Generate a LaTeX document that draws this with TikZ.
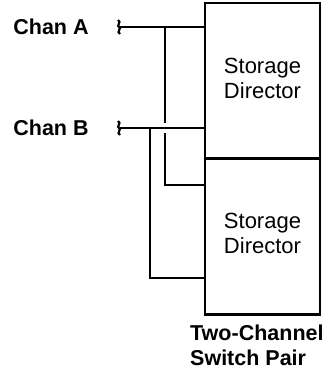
\documentclass[tikz,border=0pt]{standalone}
\usepackage{fontspec}
\setmainfont{Liberation Sans}
\begin{document}
\begin{tikzpicture}[x=1pt,y=-1pt,
  wire/.style={line width=2.6pt},
  sdbox/.style={draw, line width=2.2pt, minimum width=115pt, minimum height=156pt, inner sep=0pt,
    label={[align=center, font=\fontsize{22}{25}\selectfont, yshift=3pt]center:Storage\\Director}},
  chlabel/.style={font=\fontsize{21.5}{24}\selectfont\bfseries, inner sep=0pt},
  caption/.style={font=\fontsize{21.5}{25}\selectfont\bfseries, inner sep=0pt, align=left, anchor=north west},
  pics/tail/.style={code={\draw[line width=2.2pt] (-1,-7) .. controls (3,-5) and (-3,-1) .. (0,0) .. controls (3,1) and (-3,5) .. (1,7);}}
]
\useasboundingbox (0,0) rectangle (327,377);
\node[sdbox] (sd1) at (262.5,81) {};
\node[sdbox] (sd2) at (262.5,236.5) {};
\node[chlabel] (chA) at (51,27) {Chan A};
\node[chlabel] (chB) at (51,128) {Chan B};
\node[caption] (cap) at (190,325) {Two-Channel\\Switch Pair};
\coordinate (ta) at (119,27);
\coordinate (tb) at (119,128);
\coordinate (ja) at (165,27);
\coordinate (jb) at (150,128);
\coordinate (gapTop) at (165,123);
\coordinate (gapBot) at (165,133);
\coordinate (la) at (165,185);
\coordinate (lb) at (150,278);
\pic at (ta) {tail};
\pic at (tb) {tail};
\draw[wire] (ta) -- (ta -| sd1.west);
\draw[wire] (tb) -- (tb -| sd1.west);
\draw[wire] (ja) -- (gapTop);
\draw[wire] (gapBot) -- (la) -- (la -| sd2.west);
\draw[wire] (jb) -- (lb) -- (lb -| sd2.west);
\end{tikzpicture}
\end{document}
